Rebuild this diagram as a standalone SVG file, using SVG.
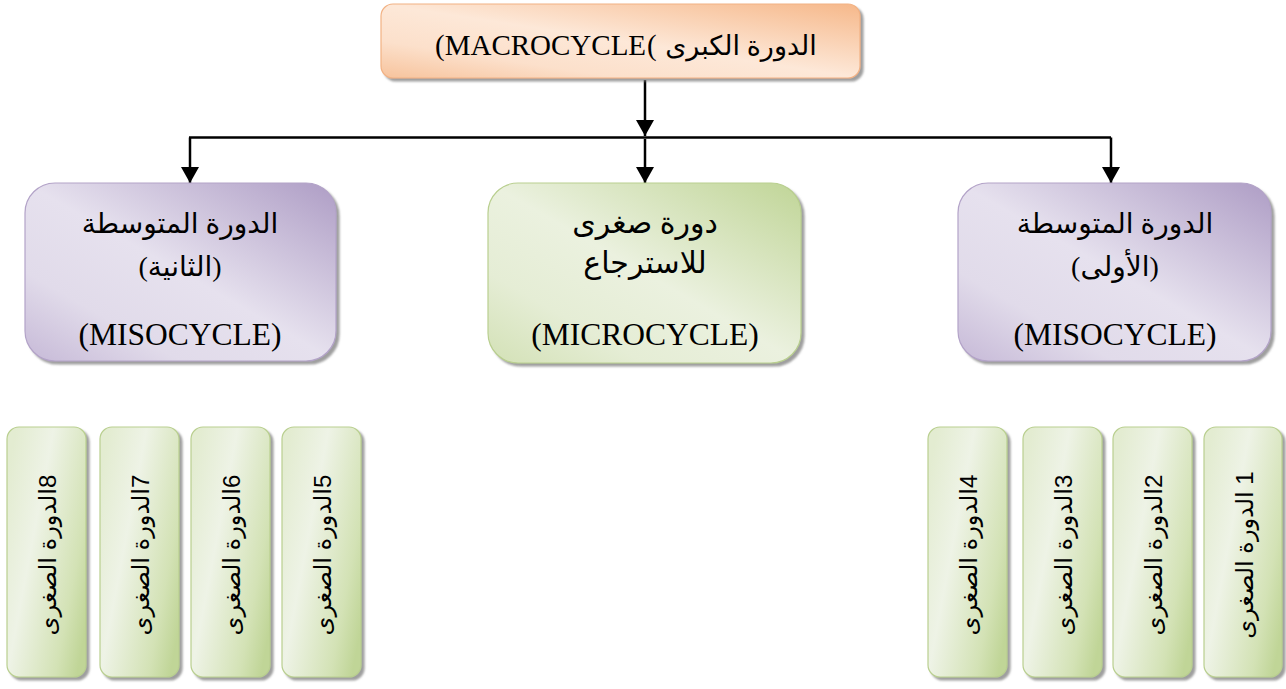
<svg xmlns="http://www.w3.org/2000/svg" width="1286" height="689" viewBox="0 0 1286 689">
<defs>
  <style>
    .lat { font-family: "Liberation Serif", "DejaVu Sans", serif; fill: #000; }
    .ar { font-family: "Liberation Serif", "DejaVu Sans", serif; fill: #000; }
    .sm { font-family: "Liberation Sans", "DejaVu Sans", sans-serif; font-size: 24px; fill: #000; }
    .conn { stroke: #000; stroke-width: 2.5; fill: none; }
    .purple { fill: url(#gPurple); stroke: #b3a3c8; stroke-width: 1.2; filter: url(#shadow); }
    .green { fill: url(#gGreen); stroke: #b9cf8f; stroke-width: 1.2; filter: url(#shadow); }
    .orange { fill: url(#gOrange); stroke: #f2b284; stroke-width: 1.2; filter: url(#shadow); }
    .sgreen { fill: url(#gSmall); stroke: #b9cf8f; stroke-width: 1.2; filter: url(#shadow); }
  </style>
  <filter id="shadow" x="-10%" y="-10%" width="130%" height="130%">
    <feDropShadow dx="3" dy="3" stdDeviation="1" flood-color="#7f7f7f" flood-opacity="0.75"/>
  </filter>
  <linearGradient id="gPurple" x1="1" y1="0" x2="0" y2="1">
    <stop offset="0" stop-color="#ae9dc5"/>
    <stop offset="0.5" stop-color="#e6e1ee"/>
    <stop offset="0.75" stop-color="#e1dbea"/>
    <stop offset="1" stop-color="#c6b9d7"/>
  </linearGradient>
  <linearGradient id="gGreen" x1="1" y1="0" x2="0" y2="1">
    <stop offset="0" stop-color="#c0d597"/>
    <stop offset="0.5" stop-color="#ebf1df"/>
    <stop offset="0.75" stop-color="#e5edd5"/>
    <stop offset="1" stop-color="#d3e1b6"/>
  </linearGradient>
  <linearGradient id="gOrange" x1="1" y1="0" x2="0" y2="1">
    <stop offset="0" stop-color="#f6b88a"/>
    <stop offset="0.5" stop-color="#fde8d8"/>
    <stop offset="0.75" stop-color="#fce0cb"/>
    <stop offset="1" stop-color="#f7c39c"/>
  </linearGradient>
  <linearGradient id="gSmall" x1="0" y1="0.2" x2="1" y2="0.8">
    <stop offset="0" stop-color="#e3ecd1"/>
    <stop offset="0.35" stop-color="#eef3e6"/>
    <stop offset="0.8" stop-color="#d3e2b5"/>
    <stop offset="1" stop-color="#c0d597"/>
  </linearGradient>
  <marker id="arrow" markerUnits="userSpaceOnUse" markerWidth="18" markerHeight="18" refX="16" refY="9" orient="auto">
    <path d="M0,0 L16,9 L0,18 Z" fill="#000"/>
  </marker>
</defs>

<g id="connectors">
  <line class="conn" x1="645" y1="80" x2="645" y2="136" marker-end="url(#arrow)"/>
  <line class="conn" x1="189" y1="137.5" x2="1111" y2="137.5"/>
  <line class="conn" x1="645" y1="139" x2="645" y2="183" marker-end="url(#arrow)"/>
  <line class="conn" x1="190" y1="137.5" x2="190" y2="183" marker-end="url(#arrow)"/>
  <line class="conn" x1="1111" y1="137.5" x2="1111" y2="183" marker-end="url(#arrow)"/>
</g>

<g id="macrocycle">
  <rect class="orange" x="381" y="4" width="479" height="74" rx="12"/>
  <text class="lat" x="435" y="55" font-size="29" direction="ltr">(MACROCYCLE</text>
  <text class="lat" x="647" y="55" font-size="29" direction="ltr">(</text>
  <text class="ar" x="741" y="55" font-size="27" text-anchor="middle">الدورة الكبرى</text>
</g>

<g id="meso2">
  <rect class="purple" x="25" y="183" width="311" height="178" rx="30"/>
  <text class="ar" x="180" y="233" font-size="28" text-anchor="middle">الدورة المتوسطة</text>
  <text class="ar" x="180" y="276" font-size="28" text-anchor="middle">(الثانية)</text>
  <text class="lat" x="180" y="345" font-size="31.5" text-anchor="middle">(MISOCYCLE)</text>
</g>

<g id="recovery">
  <rect class="green" x="488" y="183" width="313" height="180" rx="30"/>
  <text class="ar" x="645" y="233" font-size="30" text-anchor="middle">دورة صغرى</text>
  <text class="ar" x="645" y="273" font-size="30" text-anchor="middle">للاسترجاع</text>
  <text class="lat" x="645" y="345" font-size="31.5" text-anchor="middle">(MICROCYCLE)</text>
</g>

<g id="meso1">
  <rect class="purple" x="958" y="183" width="313" height="178" rx="30"/>
  <text class="ar" x="1115" y="233" font-size="28" text-anchor="middle">الدورة المتوسطة</text>
  <text class="ar" x="1115" y="276" font-size="28" text-anchor="middle">(الأولى)</text>
  <text class="lat" x="1115" y="345" font-size="31.5" text-anchor="middle">(MISOCYCLE)</text>
</g>

<g id="micro8">
  <rect class="sgreen" x="7" y="427" width="79" height="250" rx="12"/>
  <text class="sm" direction="rtl" text-anchor="middle" transform="translate(48,555) rotate(-90)" y="8">8الدورة الصغرى</text>
</g>
<g id="micro7">
  <rect class="sgreen" x="100" y="427" width="79" height="250" rx="12"/>
  <text class="sm" direction="rtl" text-anchor="middle" transform="translate(141,555) rotate(-90)" y="8">7الدورة الصغرى</text>
</g>
<g id="micro6">
  <rect class="sgreen" x="191" y="427" width="79" height="250" rx="12"/>
  <text class="sm" direction="rtl" text-anchor="middle" transform="translate(232,555) rotate(-90)" y="8">6الدورة الصغرى</text>
</g>
<g id="micro5">
  <rect class="sgreen" x="282" y="427" width="79" height="250" rx="12"/>
  <text class="sm" direction="rtl" text-anchor="middle" transform="translate(323,555) rotate(-90)" y="8">5الدورة الصغرى</text>
</g>
<g id="micro4">
  <rect class="sgreen" x="928" y="427" width="79" height="250" rx="12"/>
  <text class="sm" direction="rtl" text-anchor="middle" transform="translate(969,555) rotate(-90)" y="8">4الدورة الصغرى</text>
</g>
<g id="micro3">
  <rect class="sgreen" x="1023" y="427" width="79" height="250" rx="12"/>
  <text class="sm" direction="rtl" text-anchor="middle" transform="translate(1064,555) rotate(-90)" y="8">3الدورة الصغرى</text>
</g>
<g id="micro2">
  <rect class="sgreen" x="1113" y="427" width="79" height="250" rx="12"/>
  <text class="sm" direction="rtl" text-anchor="middle" transform="translate(1154,555) rotate(-90)" y="8">2الدورة الصغرى</text>
</g>
<g id="micro1">
  <rect class="sgreen" x="1204" y="427" width="78" height="250" rx="12"/>
  <text class="sm" direction="rtl" text-anchor="middle" transform="translate(1245,555) rotate(-90)" y="8">1 الدورة الصغرى</text>
</g>
</svg>
